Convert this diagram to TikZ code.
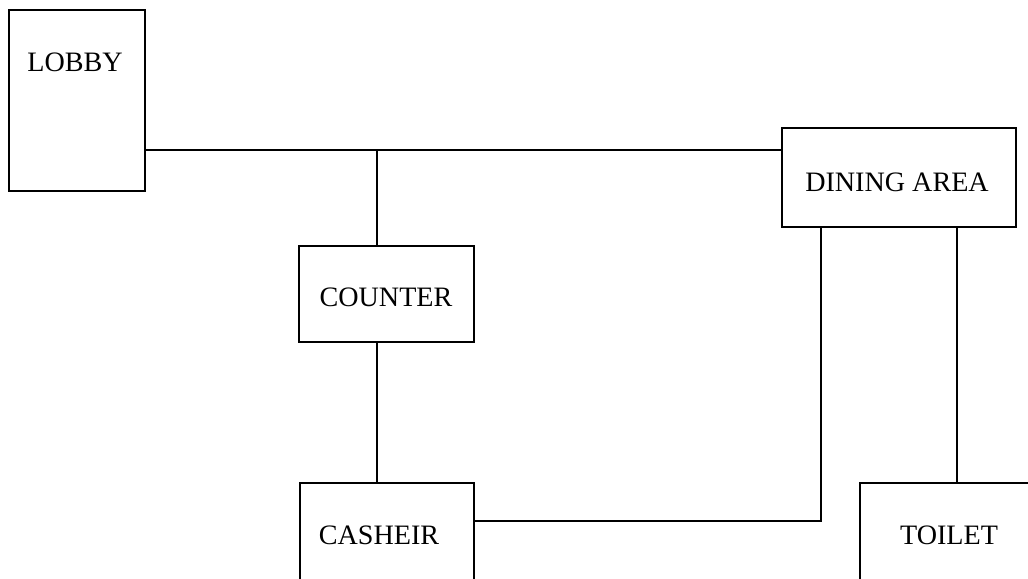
\documentclass[tikz,border=0pt]{standalone}
\usepackage{fontspec}
\setmainfont{Liberation Serif}
\usepackage{tikz}
\usetikzlibrary{positioning, calc}

\begin{document}
\begin{tikzpicture}[line width=1.3pt,
  room/.style={draw, rectangle, inner sep=0pt},
  tag/.style={inner sep=0pt, font=\fontsize{20}{24}\selectfont}]
\useasboundingbox (0,0) rectangle (25.7,14.475);
\clip (0,0) rectangle (25.7,14.475);

% Nodes
\node[room, minimum width=3.4cm, minimum height=4.525cm] (lobby) at (1.925,11.9625) {};
\node[tag] (lobbytxt) at (1.875,12.925) {LOBBY};

\node[room, minimum width=5.85cm, minimum height=2.475cm] (dining) at (22.475,10.0375) {};
\node[tag] (diningtxt) at (22.425,9.925) {DINING AREA};

\node[room, minimum width=4.375cm, minimum height=2.4cm] (counter) at (9.6625,7.125) {};
\node[tag] (countertxt) at (9.65,7.05) {COUNTER};

\node[room, minimum width=4.35cm, minimum height=2.925cm] (cashier) at (9.675,0.9375) {};
\node[tag] (cashiertxt) at (9.475,1.1) {CASHEIR};

\node[room, minimum width=4.625cm, minimum height=2.925cm] (toilet) at (23.8125,0.9375) {};
\node[tag] (toilettxt) at (23.725,1.1) {TOILET};

% Bend points
\coordinate (hub) at (9.425,10.725);
\coordinate (bend) at (20.525,1.45);
\coordinate (tdrop) at (23.925,0);

% Edges
\draw (lobby.east |- hub) -- (dining.west |- hub);
\draw (hub) -- (hub |- counter.north);
\draw (hub |- counter.south) -- (hub |- cashier.north);
\draw (bend |- dining.south) -- (bend) -- (cashier.east |- bend);
\draw (tdrop |- dining.south) -- (tdrop |- toilet.north);

\end{tikzpicture}
\end{document}
